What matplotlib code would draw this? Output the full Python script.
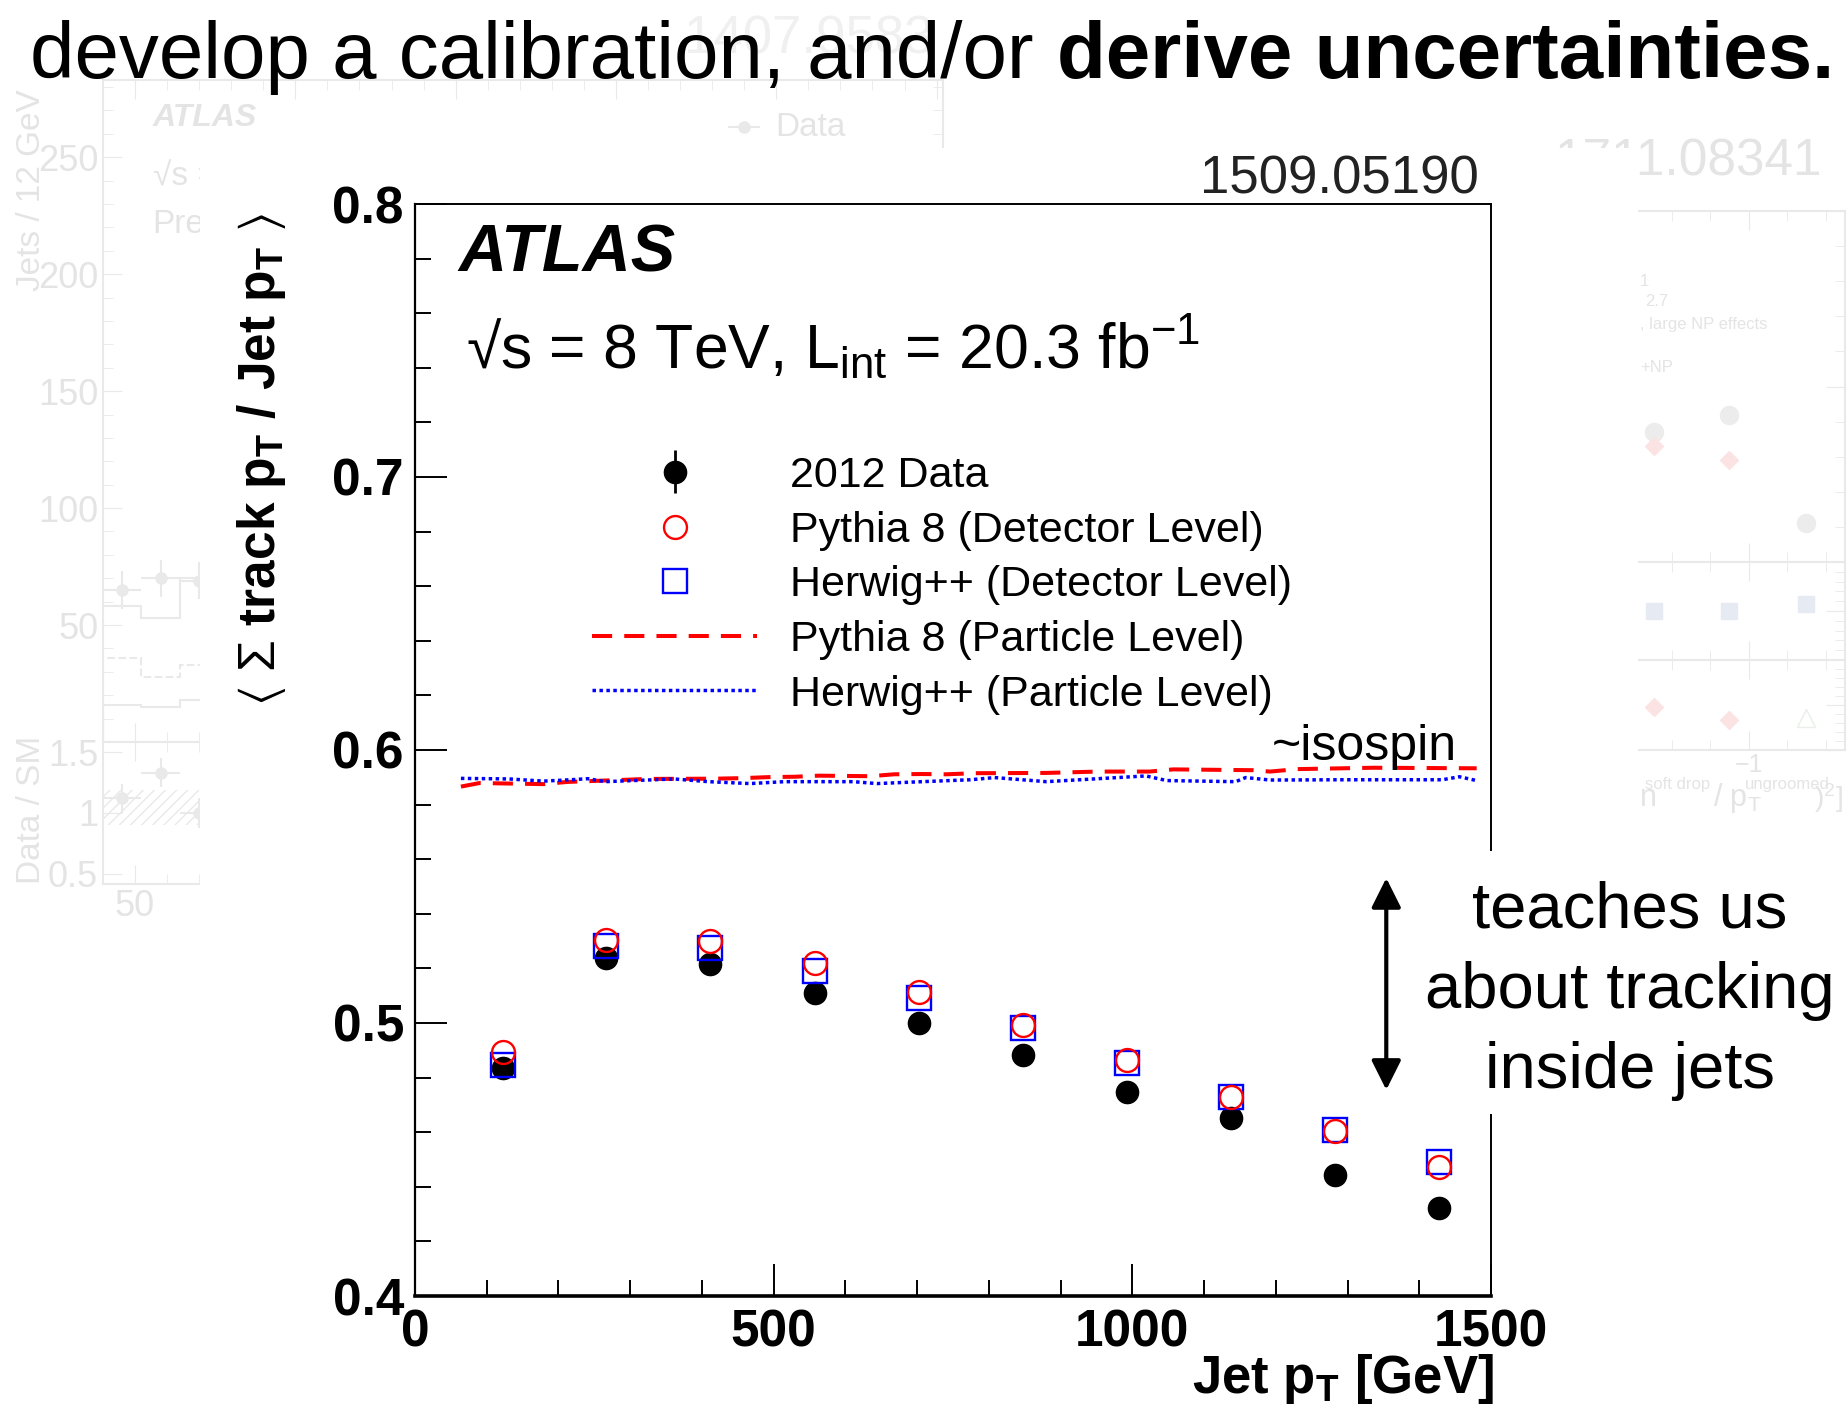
import matplotlib
matplotlib.use('Agg')
import matplotlib.pyplot as plt
from matplotlib.patches import Rectangle
from matplotlib.ticker import MultipleLocator

plt.rcParams['font.family'] = ['Liberation Sans', 'DejaVu Sans']
plt.rcParams['mathtext.fontset'] = 'custom'
plt.rcParams['mathtext.rm'] = 'Liberation Sans'
plt.rcParams['mathtext.it'] = 'Liberation Sans:italic'
plt.rcParams['mathtext.bf'] = 'Liberation Sans:bold'
plt.rcParams['mathtext.fallback'] = 'stixsans'

# --- main chart data (1509.05190) ---
jet_pt = [123, 266, 411, 557, 702, 848, 992, 1137, 1282, 1427]
data_2012 = [0.4835, 0.5239, 0.5215, 0.5109, 0.4999, 0.4883, 0.4748, 0.4651, 0.4443, 0.4321]
data_err = [0.002, 0.002, 0.002, 0.002, 0.002, 0.002, 0.002, 0.002, 0.002, 0.002]
pythia_det = [0.4895, 0.5304, 0.5301, 0.5221, 0.5115, 0.4993, 0.4864, 0.4730, 0.4605, 0.4474]
herwig_det = [0.4846, 0.5282, 0.5276, 0.5192, 0.5092, 0.4981, 0.4855, 0.4730, 0.4608, 0.4492]

pythia_part_x = [64, 90, 179, 212, 284, 323, 419, 457, 496, 529, 563, 601, 635, 668,
                 707, 741, 779, 880, 952, 1024, 1057, 1168, 1192, 1230, 1336, 1480]
pythia_part = [0.5866, 0.5879, 0.5875, 0.5883, 0.5890, 0.5894, 0.5895, 0.5897, 0.5901,
               0.5902, 0.5906, 0.5905, 0.5904, 0.5911, 0.5912, 0.5911, 0.5915, 0.5916,
               0.5921, 0.5921, 0.5929, 0.5926, 0.5921, 0.5930, 0.5935, 0.5933]
herwig_part_x = [64, 131, 179, 217, 241, 265, 323, 361, 409, 467, 515, 611, 644, 707,
                 774, 808, 880, 1019, 1048, 1144, 1158, 1192, 1288, 1432, 1456, 1480]
herwig_part = [0.5896, 0.5894, 0.5886, 0.5891, 0.5895, 0.5884, 0.5890, 0.5894, 0.5884,
               0.5877, 0.5884, 0.5884, 0.5877, 0.5884, 0.5891, 0.5899, 0.5884, 0.5905,
               0.5888, 0.5884, 0.5899, 0.5890, 0.5891, 0.5891, 0.5902, 0.5888]

legend_labels = ['2012 Data', 'Pythia 8 (Detector Level)', 'Herwig++ (Detector Level)',
                 'Pythia 8 (Particle Level)', 'Herwig++ (Particle Level)']

# --- faded background charts ---
bg_edges = [40, 52, 64, 76]
bg_mc1 = [58, 53, 70]
bg_mc2 = [36, 28, 33]
bg_mc3 = [16, 15, 18]
bg_x = [46, 58, 70]
bg_data = [65, 70, 69]
bg_ratio = [1.12, 1.33, 1.0]

rp_x = [-1.49, -1.10, -0.70]
rp_top_data = [0.37, 0.42, 0.11]
rp_top_mc = [0.33, 0.29]
rp_mid = [0.50, 0.50, 0.57]
rp_bot = [0.48, 0.33, 0.36]

W, H = 1848, 1417
FAINT = '#e9e9e9'
FAINT_T = '#e4e4e4'


def fx(x):
    return x / W


def fy(y):
    return 1 - y / H


fig = plt.figure(figsize=(W / 100, H / 100), dpi=100)

# left faded chart
lt = fig.add_axes([fx(103), fy(742), (943 - 103) / W, (742 - 80) / H], zorder=1)
lb = fig.add_axes([fx(103), fy(884), (943 - 103) / W, (884 - 742) / H], zorder=1)
lt.set_xlim(40, 302)
lb.set_xlim(40, 302)
lt.set_ylim(0, 283)
lb.set_ylim(0.418, 1.582)
lt.stairs(bg_mc1, bg_edges, color=FAINT, lw=1.5)
lt.stairs(bg_mc2, bg_edges, color=FAINT, lw=1.5, ls='--')
lt.stairs(bg_mc3, bg_edges, color=FAINT, lw=1.5)
lt.errorbar(bg_x, bg_data, yerr=8, xerr=6, fmt='o', color=FAINT, ms=8)
lt.errorbar([240], [263], xerr=5, fmt='o', color=FAINT, ms=8)
lb.errorbar(bg_x, bg_ratio, yerr=0.12, xerr=6, fmt='o', color=FAINT, ms=8)
lb.fill_between(bg_edges, 0.9, 1.19, step='pre', facecolor='none', edgecolor=FAINT, hatch='///', lw=0)
for a in (lt, lb):
    for s in a.spines.values():
        s.set_color(FAINT)
        s.set_linewidth(1.5)
    a.tick_params(which='both', direction='in', top=True, right=True, colors=FAINT,
                  labelcolor=FAINT_T, labelsize=26)
    a.tick_params(which='major', length=14)
    a.tick_params(which='minor', length=7)
    a.xaxis.set_major_locator(MultipleLocator(50))
    a.xaxis.set_minor_locator(MultipleLocator(10))
lt.yaxis.set_major_locator(MultipleLocator(50))
lt.yaxis.set_minor_locator(MultipleLocator(10))
lt.set_yticks([50, 100, 150, 200, 250])
lt.tick_params(labelbottom=False)
lb.set_yticks([0.5, 1, 1.5], ['0.5', '1', '1.5'])
fig.text(fx(32), fy(190), 'Jets / 12 GeV', rotation=90, ha='center', va='center',
         fontsize=24, color=FAINT_T, zorder=1)
fig.text(fx(32), fy(810), 'Data / SM', rotation=90, ha='center', va='center',
         fontsize=24, color=FAINT_T, zorder=1)
fig.text(fx(153), fy(118), 'ATLAS', fontsize=23, fontweight='bold', style='italic',
         color=FAINT_T, va='center', zorder=1)
fig.text(fx(153), fy(177), '\u221as = 8 TeV', fontsize=24, color=FAINT_T,
         va='center', zorder=1)
fig.text(fx(152), fy(224), 'Preliminary', fontsize=24, color=FAINT_T, va='center', zorder=1)
fig.text(fx(775), fy(127), 'Data', fontsize=24, color=FAINT_T, va='center', zorder=1)
fig.text(fx(684), fy(53), '1407.9583', fontsize=38, color='#f0f0f0', va='baseline', zorder=0)

# right faded chart
rt = fig.add_axes([fx(1560), fy(562), (1845 - 1560) / W, (562 - 211) / H], zorder=1)
rm = fig.add_axes([fx(1560), fy(660), (1845 - 1560) / W, (660 - 562) / H], zorder=1)
rb = fig.add_axes([fx(1560), fy(750), (1845 - 1560) / W, (750 - 660) / H], zorder=1)
for a in (rt, rm, rb):
    a.set_xlim(-1.98, -0.5)
    a.set_ylim(0, 1)
    for s in a.spines.values():
        s.set_color(FAINT)
        s.set_linewidth(1.5)
    a.xaxis.set_major_locator(MultipleLocator(1))
    a.xaxis.set_minor_locator(MultipleLocator(0.2))
    a.yaxis.set_major_locator(MultipleLocator(0.5))
    a.yaxis.set_minor_locator(MultipleLocator(0.1))
    a.tick_params(which='both', direction='in', top=True, right=True, colors=FAINT,
                  labelcolor=FAINT_T, labelleft=False, labelbottom=False, labelsize=18)
    a.tick_params(which='major', length=14)
    a.tick_params(which='minor', length=7)
rb.tick_params(labelbottom=True, pad=2)
rb.set_xticks([-1], ['\u22121'])
rt.plot(rp_x, rp_top_data, 'o', color='#ececec', ms=13)
rt.plot(rp_x[:2], rp_top_mc, 'D', color='#fbe3e3', ms=9)
rm.plot(rp_x, rp_mid, 's', color='#e6eaf3', ms=12)
rb.plot(rp_x[:2], rp_bot[:2], 'D', color='#fbe3e3', ms=9)
rb.plot(rp_x[2:], rp_bot[2:], '^', mfc='none', mec='#e9efe9', ms=13)
fig.text(fx(1640), fy(281), '1', fontsize=12, color=FAINT_T, va='center', zorder=1)
fig.text(fx(1645), fy(302), '2.7', fontsize=12, color=FAINT_T, va='center', zorder=1)
fig.text(fx(1640), fy(325), ', large NP effects', fontsize=12, color=FAINT_T, va='center', zorder=1)
fig.text(fx(1640), fy(367), '+NP', fontsize=12, color=FAINT_T, va='center', zorder=1)
fig.text(fx(1640), fy(798), 'n', fontsize=22, color=FAINT_T, va='center', zorder=1)
fig.text(fx(1645), fy(785), 'soft drop', fontsize=12, color=FAINT_T, va='center', zorder=1)
fig.text(fx(1713), fy(798), r'/ p$_{\mathrm{T}}$', fontsize=22, color=FAINT_T, va='center', zorder=1)
fig.text(fx(1745), fy(785), 'ungroomed', fontsize=12, color=FAINT_T, va='center', zorder=1)
fig.text(fx(1843), fy(798), r')$^{2}$]', fontsize=20, color=FAINT_T, ha='right',
         va='center', zorder=1)
fig.text(fx(1822), fy(175), '1711.08341', fontsize=37, color=FAINT_T, ha='right',
         va='baseline', zorder=1)

# white background of the main chart
fig.patches.append(Rectangle((fx(200), 0), (1638 - 200) / W, fy(148), transform=fig.transFigure,
                             facecolor='white', edgecolor='none', zorder=1.5))

# main chart
ax = fig.add_axes([fx(415), fy(1296), (1491 - 415) / W, (1296 - 204) / H], zorder=3)
ax.set_xlim(0, 1500)
ax.set_ylim(0.4, 0.8)
h_data = ax.errorbar(jet_pt, data_2012, yerr=data_err, fmt='o', color='black', ms=16,
                     elinewidth=2, capsize=0, zorder=4)
h_hw, = ax.plot(jet_pt, herwig_det, 's', mfc='none', mec='blue', ms=17, mew=1.7, zorder=5)
h_py, = ax.plot(jet_pt, pythia_det, 'o', mfc='none', mec='red', ms=16.5, mew=1.7, zorder=6)
h_pyp, = ax.plot(pythia_part_x, pythia_part, color='red', lw=2.9, ls=(0, (5, 3)), zorder=3)
h_hwp, = ax.plot(herwig_part_x, herwig_part, color='blue', lw=2.5, ls=(0, (1, 1)), zorder=3)

ax.xaxis.set_major_locator(MultipleLocator(500))
ax.xaxis.set_minor_locator(MultipleLocator(100))
ax.yaxis.set_major_locator(MultipleLocator(0.1))
ax.yaxis.set_minor_locator(MultipleLocator(0.02))
ax.tick_params(which='both', direction='in', top=False, right=False, width=1.4)
ax.tick_params(which='major', length=23, labelsize=37)
ax.tick_params(axis='y', which='major', pad=8)
ax.tick_params(axis='x', which='major', pad=9)
ax.tick_params(which='minor', length=11.5)
for lbl in ax.get_xticklabels() + ax.get_yticklabels():
    lbl.set_fontweight('bold')
ax.spines['bottom'].set_linewidth(2.6)
ax.spines['left'].set_linewidth(1.6)
ax.spines['top'].set_linewidth(1.4)
ax.spines['right'].set_linewidth(1.4)

ax.legend([h_data, h_py, h_hw, h_pyp, h_hwp], legend_labels, loc='upper left',
          bbox_to_anchor=(fx(592), fy(456)), bbox_transform=fig.transFigure,
          frameon=False, fontsize=31, handlelength=3.84, handletextpad=0.77,
          labelspacing=0.34, borderpad=0, borderaxespad=0, numpoints=1)

ax.annotate('', xy=(1354, 0.4755), xytext=(1354, 0.5531),
            arrowprops=dict(arrowstyle='<|-|>', lw=3, color='black', mutation_scale=45,
                            shrinkA=0, shrinkB=0))

fig.text(fx(458), fy(272), 'ATLAS', fontsize=48, fontweight='bold', style='italic',
         va='baseline', zorder=7)
fig.text(fx(466), fy(368),
         '\u221as = 8 TeV, L$_{\\mathrm{int}}$ = 20.3 fb$^{\\mathrm{-1}}$',
         fontsize=45, va='baseline', zorder=7)
fig.text(fx(1479), fy(193), '1509.05190', fontsize=38, color='#222222', ha='right',
         va='baseline', zorder=7)
fig.text(fx(1272), fy(760), '~isospin', fontsize=36, va='baseline', zorder=7)
fig.text(fx(262), fy(460),
         r'$\langle$ $\Sigma$ track p$_{\mathbf{T}}$ / Jet p$_{\mathbf{T}}$ $\rangle$',
         rotation=90, ha='center', va='center', fontsize=37, fontweight='bold', zorder=7)
fig.text(fx(1494), fy(1393), r'Jet p$_{\mathbf{T}}$ [GeV]', ha='right', va='baseline',
         fontsize=38, fontweight='bold', zorder=7)

# annotation box on the right
fig.patches.append(Rectangle((fx(1420), fy(1114)), (W - 1420) / W, (1114 - 851) / H,
                             transform=fig.transFigure, facecolor='white', edgecolor='none',
                             zorder=5))
for txt, yb in [('teaches us', 928), ('about tracking', 1008), ('inside jets', 1088)]:
    fig.text(fx(1630), fy(yb), txt, ha='center', va='baseline', fontsize=47, zorder=8)

# slide title
t1 = fig.text(fx(30), fy(78), 'develop a calibration, and/or', fontsize=57.5,
              va='baseline', ha='left', zorder=10)
fig.canvas.draw()
bb = t1.get_window_extent()
fig.text((bb.x1 + 23) / W, fy(78), 'derive uncertainties.', fontsize=57.5, fontweight='bold',
         va='baseline', ha='left', zorder=10)

fig.savefig('out.png', dpi=100)
